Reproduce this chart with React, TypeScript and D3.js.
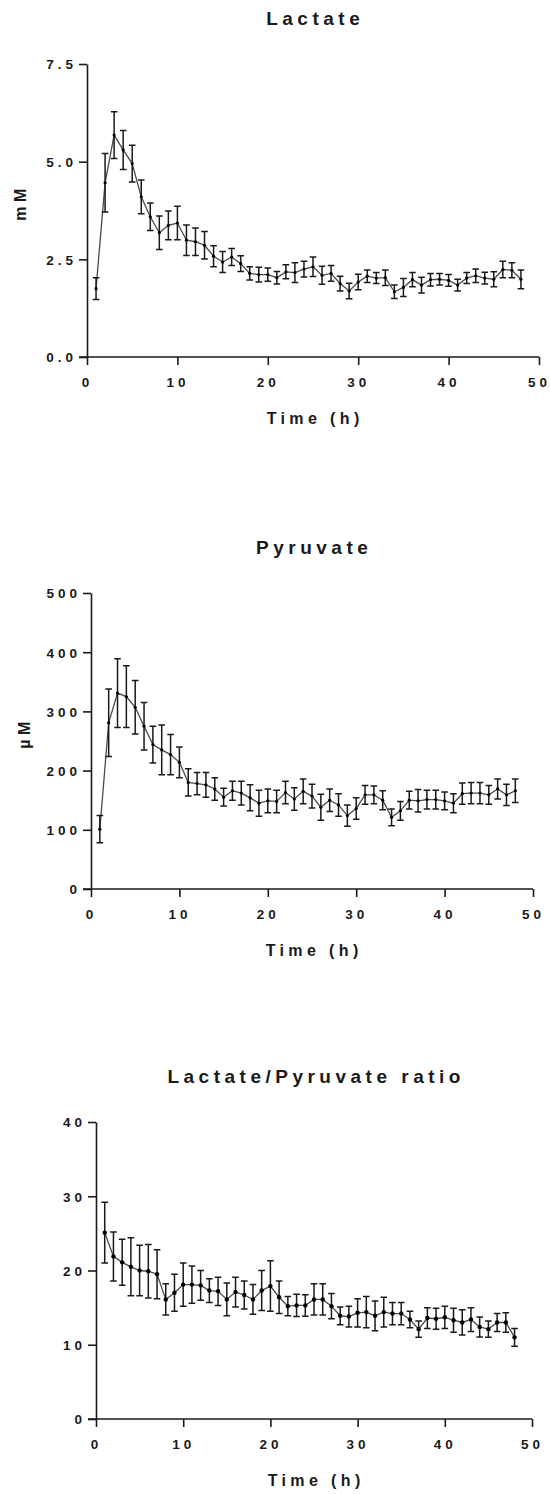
import { useEffect, useRef } from 'react';
import * as d3 from 'd3';

const hours = d3.range(1, 49);
const timeTicks = [0, 10, 20, 30, 40, 50];

const lactateMean = [1.75, 4.46, 5.68, 5.3, 4.95, 4.1, 3.59, 3.18, 3.37, 3.43, 2.99, 2.95, 2.86, 2.58, 2.43, 2.56, 2.39, 2.14, 2.11, 2.11, 2.03, 2.18, 2.16, 2.25, 2.31, 2.09, 2.14, 1.88, 1.69, 1.92, 2.07, 2.02, 2.03, 1.67, 1.78, 1.98, 1.84, 1.98, 1.99, 1.96, 1.84, 2.02, 2.08, 2.02, 1.99, 2.24, 2.22, 1.99];
const lactateSem = [0.28, 0.75, 0.6, 0.5, 0.47, 0.43, 0.35, 0.43, 0.37, 0.43, 0.39, 0.35, 0.35, 0.27, 0.27, 0.22, 0.2, 0.17, 0.19, 0.17, 0.16, 0.18, 0.25, 0.2, 0.25, 0.23, 0.2, 0.19, 0.2, 0.2, 0.16, 0.14, 0.2, 0.17, 0.23, 0.18, 0.2, 0.16, 0.15, 0.15, 0.15, 0.14, 0.17, 0.15, 0.19, 0.21, 0.19, 0.24];
const lactateTicks = [0, 2.5, 5, 7.5];

const pyruvateMean = [101, 281, 331, 325, 307, 275, 244, 235, 227, 214, 180, 178, 176, 169, 155, 166, 162, 154, 145, 149, 148, 163, 152, 165, 157, 138, 150, 142, 124, 136, 159, 159, 150, 121, 132, 150, 149, 151, 151, 149, 145, 161, 162, 162, 159, 169, 159, 166];
const pyruvateSem = [23, 57, 58, 52, 45, 40, 31, 42, 34, 26, 23, 19, 21, 19, 15, 16, 20, 22, 22, 20, 19, 19, 19, 21, 20, 22, 19, 19, 18, 18, 16, 15, 16, 14, 16, 15, 19, 16, 16, 15, 16, 18, 18, 18, 16, 17, 18, 20];
const pyruvateTicks = [0, 100, 200, 300, 400, 500];

const ratioMean = [25.1, 21.9, 21.1, 20.5, 20.0, 19.9, 19.5, 16.1, 17.0, 18.1, 18.1, 18.0, 17.3, 17.2, 16.1, 17.1, 16.7, 16.1, 17.3, 17.9, 16.4, 15.2, 15.3, 15.3, 16.1, 16.1, 15.2, 13.9, 13.8, 14.3, 14.4, 13.9, 14.4, 14.2, 14.2, 13.4, 12.1, 13.6, 13.5, 13.7, 13.3, 13.0, 13.4, 12.4, 12.1, 13.0, 13.0, 11.0];
const ratioSem = [4.1, 3.3, 3.1, 3.9, 3.4, 3.6, 3.3, 2.1, 2.5, 2.9, 2.5, 2.0, 1.6, 1.9, 2.2, 2.0, 1.9, 2.0, 2.7, 3.4, 2.2, 1.3, 1.5, 1.45, 2.1, 2.1, 1.7, 1.2, 1.4, 1.9, 2.1, 2.0, 2.0, 1.5, 1.5, 1.1, 1.1, 1.4, 1.4, 1.5, 1.6, 1.7, 1.6, 1.35, 1.1, 1.2, 1.3, 1.2];
const ratioTicks = [0, 10, 20, 30, 40];

const FONT = 'Liberation Sans, Arial, Helvetica, sans-serif';
const INK = '#1a1a1a';

interface PanelSpec {
  title: string; yLabel: string; mean: number[]; sem: number[]; yTicks: number[]; fmt: (n: number) => string;
  x0: number; x1: number; y0: number; y1: number; dotR: number;
}

const panels: PanelSpec[] = [
  { title: 'Lactate', yLabel: 'mM', mean: lactateMean, sem: lactateSem, yTicks: lactateTicks, fmt: d3.format('.1f'), x0: 87, x1: 539, y0: 64, y1: 357, dotR: 1.6 },
  { title: 'Pyruvate', yLabel: 'µM', mean: pyruvateMean, sem: pyruvateSem, yTicks: pyruvateTicks, fmt: d3.format('d'), x0: 91, x1: 533, y0: 593, y1: 889, dotR: 1.6 },
  { title: 'Lactate/Pyruvate ratio', yLabel: '', mean: ratioMean, sem: ratioSem, yTicks: ratioTicks, fmt: d3.format('d'), x0: 96, x1: 532, y0: 1122, y1: 1419, dotR: 2.2 },
];

function drawPanel(root: d3.Selection<SVGSVGElement, unknown, null, undefined>, p: PanelSpec) {
  const x = d3.scaleLinear().domain([0, 50]).range([p.x0, p.x1]);
  const y = d3.scaleLinear().domain([0, p.yTicks[p.yTicks.length - 1]]).range([p.y1, p.y0]);
  const g = root.append('g');
  const mid = (p.x0 + p.x1) / 2;

  // title
  g.append('text').attr('x', mid + 2.2).attr('y', p.y0 - 39).attr('text-anchor', 'middle')
    .attr('font-family', FONT).attr('font-weight', 700).attr('font-size', 19).attr('letter-spacing', 4.5)
    .attr('fill', INK).text(p.title);

  // axes
  g.append('g').attr('transform', `translate(0,${p.y1})`)
    .call(d3.axisBottom(x).tickValues(timeTicks).tickSize(8).tickSizeOuter(0).tickFormat(d3.format('d')))
    .call((s) => s.select('.domain').attr('stroke', INK).attr('stroke-width', 1.6).attr('d', `M${p.x0 - 8},0H${p.x1}`))
    .call((s) => s.selectAll('.tick line').attr('stroke', INK).attr('stroke-width', 1.6))
    .call((s) => s.selectAll('.tick text').attr('y', 29.5).attr('dy', 0)
      .attr('font-family', FONT).attr('font-weight', 700).attr('font-size', 13.5).attr('letter-spacing', 4).attr('fill', INK));
  g.append('g').attr('transform', `translate(${p.x0},0)`)
    .call(d3.axisLeft(y).tickValues(p.yTicks).tickSize(8).tickSizeOuter(0).tickFormat((d) => p.fmt(Number(d))))
    .call((s) => s.select('.domain').attr('stroke', INK).attr('stroke-width', 1.6))
    .call((s) => s.selectAll('.tick line').attr('stroke', INK).attr('stroke-width', 1.6))
    .call((s) => s.selectAll('.tick text').attr('x', -10).attr('dy', '0.36em')
      .attr('font-family', FONT).attr('font-weight', 700).attr('font-size', 13.5).attr('letter-spacing', 4).attr('fill', INK));

  g.append('text').attr('x', mid + 2.2).attr('y', p.y1 + 67).attr('text-anchor', 'middle')
    .attr('font-family', FONT).attr('font-weight', 700).attr('font-size', 16).attr('letter-spacing', 4.4)
    .attr('fill', INK).text('Time (h)');

  if (p.yLabel) {
    const cy = (p.y0 + p.y1) / 2 - 8;
    g.append('text').attr('transform', `translate(${p.x0 - 61},${cy}) rotate(-90)`).attr('text-anchor', 'middle')
      .attr('font-family', FONT).attr('font-weight', 700).attr('font-size', 16).attr('letter-spacing', 4.4)
      .attr('fill', INK).text(p.yLabel);
  }

  const rows = hours.map((h, i) => ({ h, m: p.mean[i], e: p.sem[i] }));

  // connecting line
  g.append('path').datum(rows)
    .attr('d', d3.line<typeof rows[number]>().x((d) => x(d.h)).y((d) => y(d.m)))
    .attr('fill', 'none').attr('stroke', '#4a4a4a').attr('stroke-width', 1.3);

  // error bars
  const cap = 3.3;
  const eb = g.append('g').attr('stroke', INK).attr('stroke-width', 1.5).attr('fill', 'none');
  eb.selectAll('path').data(rows).enter().append('path')
    .attr('d', (d) => {
      const cx = x(d.h); const hi = y(d.m + d.e); const lo = y(d.m - d.e);
      return `M${cx - cap},${hi}H${cx + cap}M${cx},${hi}V${lo}M${cx - cap},${lo}H${cx + cap}`;
    });

  // points
  g.append('g').selectAll('circle').data(rows).enter().append('circle')
    .attr('cx', (d) => x(d.h)).attr('cy', (d) => y(d.m)).attr('r', p.dotR).attr('fill', '#000');
}

export default function App() {
  const ref = useRef<SVGSVGElement | null>(null);
  useEffect(() => {
    const svg = d3.select(ref.current!);
    svg.selectAll('*').remove();
    svg.append('rect').attr('width', 550).attr('height', 1494).attr('fill', '#fff');
    panels.forEach((p) => drawPanel(svg, p));
  }, []);
  return (
    <svg ref={ref} width={550} height={1494} viewBox="0 0 550 1494"
      style={{ position: 'absolute', left: 0, top: 0, display: 'block' }} />
  );
}
